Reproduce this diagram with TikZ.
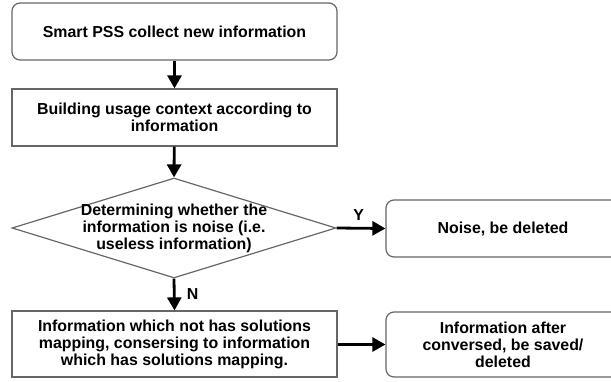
\documentclass[tikz,border=0pt]{standalone}
\usepackage{fontspec}
\setmainfont{Liberation Sans}
\usetikzlibrary{shapes.geometric,arrows.meta}
\definecolor{edgegray}{HTML}{666666}
\begin{document}
\begin{tikzpicture}[x=1pt,y=-1pt,
        every node/.style={font=\fontsize{15.9}{17}\selectfont\bfseries,align=center},
        stepbox/.style={draw=edgegray,line width=1.2pt,minimum width=325pt,inner sep=0pt},
        roundbox/.style={stepbox,rounded corners=8pt,minimum width=234pt},
        flow/.style={line width=2.8pt,-{Triangle[length=13pt,width=14pt]}}]
    \useasboundingbox (0,0) rectangle (611,381);
    \clip (0,0) rectangle (611,381);
    \node[stepbox,rounded corners=8pt,minimum height=57pt] (collect) at (174.5,31.5) {Smart PSS collect new information};
    \node[stepbox,minimum height=57pt] (context) at (174.5,117.5) {Building usage context according to\\information};
    \node[diamond,draw=edgegray,line width=1.2pt,inner sep=0pt,minimum width=324pt,minimum height=100pt] (noise) at (174,228) {};
    \node (noisetext) at (174,228) {Determining whether the\\information is noise (i.e.\\useless information)};
    \node[stepbox,minimum height=66pt] (convert) at (174.5,344) {Information which not has solutions\\mapping, consersing to information\\which has solutions mapping.};
    \node[roundbox,minimum height=57pt] (deleted) at (503,228.5) {Noise, be deleted};
    \node[roundbox,minimum height=65pt] (saved) at (503,344.5) {Information after\\conversed, be saved/\\deleted};
    \draw[flow] (collect) -- (context);
    \draw[flow] (context) -- (noise.north);
    \draw[flow] (noise.east) -- (deleted.west) node[pos=0.45,above=3pt]{Y};
    \draw[flow] (noise.south) -- (convert.north) node[midway,right=8pt]{N};
    \draw[flow] (convert.east |- saved.west) -- (saved.west);
\end{tikzpicture}
\end{document}
